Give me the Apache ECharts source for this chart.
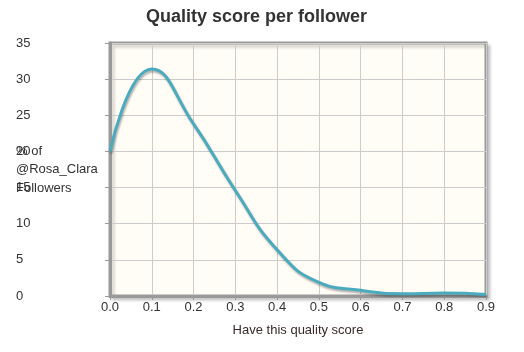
<!DOCTYPE html>
<html>
<head>
<meta charset="utf-8">
<script src="https://cdn.jsdelivr.net/npm/echarts@6/dist/echarts.min.js"></script>
<style>html,body{margin:0;padding:0;background:#fff}#c{width:524px;height:352px}</style>
</head>
<body>
<div id="c"></div>
<script>
var titleText = "Quality score per follower";
var xAxisName = "Have this quality score";
var yAxisName = "% of\n@Rosa_Clara\nFollowers";
var xValues = [0.0, 0.1, 0.2, 0.3, 0.4, 0.5, 0.6, 0.7, 0.8, 0.9];
var yValues = [20, 31.4, 23.8, 14.6, 6.4, 1.9, 0.8, 0.3, 0.4, 0.2];

var font = "Arial, 'Liberation Sans', sans-serif";
var chart = echarts.init(document.getElementById('c'));
chart.setOption({
  animation: false,
  textStyle: {fontFamily: font},
  title: {
    text: titleText, left: 141, top: 3,
    textStyle: {fontSize: 18, fontWeight: 'bold', color: '#333', fontFamily: font}
  },
  grid: {
    left: 110, right: 38, top: 43, bottom: 56, show: true,
    backgroundColor: '#fffdf5', borderColor: '#999', borderWidth: 3,
    shadowColor: 'rgba(0,0,0,0.18)', shadowBlur: 3, shadowOffsetX: 3, shadowOffsetY: 3
  },
  graphic: [{
    type: 'text', left: 16, top: 142,
    style: {text: yAxisName, font: "13px " + font, fill: '#333', lineHeight: 18.5}
  }],
  xAxis: {
    type: 'value', min: 0, max: 0.9, interval: 0.1,
    name: xAxisName, nameLocation: 'middle', nameGap: 28,
    nameTextStyle: {color: '#3a2a2a', fontSize: 13, fontFamily: font},
    axisLine: {show: true, lineStyle: {color: '#999', width: 3}},
    axisTick: {show: true, length: 4, lineStyle: {color: '#999'}},
    axisLabel: {color: '#333', fontSize: 13, margin: 5, formatter: function(v){return v.toFixed(1);}},
    splitLine: {show: true, lineStyle: {color: '#ccc', width: 1}}
  },
  yAxis: {
    type: 'value', min: 0, max: 35, interval: 5,
    axisLine: {show: true, lineStyle: {color: '#999', width: 3}},
    axisTick: {show: true, length: 5, lineStyle: {color: '#999'}},
    axisLabel: {color: '#333', fontSize: 13, align: 'left', margin: 94},
    splitLine: {show: true, lineStyle: {color: '#ccc', width: 1}}
  },
  series: [{
    type: 'line', smooth: 0.5, symbol: 'none',
    data: xValues.map(function(x, i){return [x, yValues[i]];}),
    lineStyle: {color: '#4aabbf', width: 3, shadowColor: 'rgba(0,0,0,0.3)', shadowBlur: 2, shadowOffsetX: 1, shadowOffsetY: 2}
  }]
});
</script>
</body>
</html>
